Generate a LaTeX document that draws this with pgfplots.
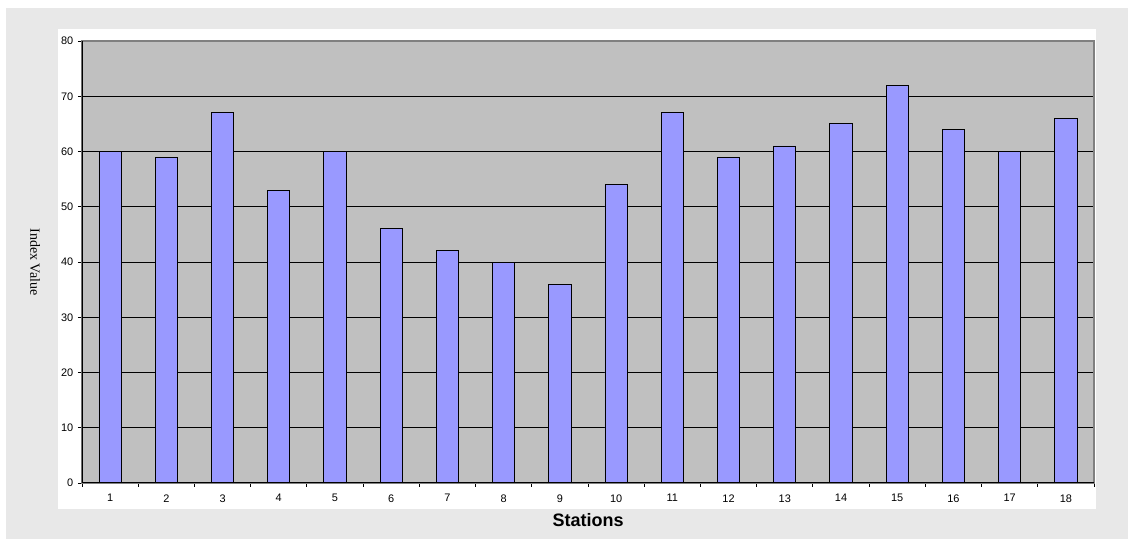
\documentclass[border=0pt]{standalone}
\usepackage{fontspec}
\setmainfont{Liberation Sans}
\newfontfamily\serifx{Liberation Serif}
\usepackage{pgfplots}
\pgfplotsset{compat=1.18}
\definecolor{outerbg}{HTML}{E8E8E8}
\definecolor{plotbg}{HTML}{C0C0C0}
\definecolor{barfill}{HTML}{9999FF}
\definecolor{frame}{HTML}{808080}
\begin{document}
\begin{tikzpicture}[x=0.75pt,y=0.75pt]
% page 1128 x 539 px, 1px = 0.75pt
\path[use as bounding box] (0,0) rectangle (1128,539);
\fill[white] (0,0) rectangle (1128,539);
\fill[outerbg] (6,0) rectangle (1128,531);
\fill[white] (58,30) rectangle (1096,510);
\begin{axis}[
  at={(61.5pt,42pt)}, anchor=south west,
  scale only axis,
  width=759pt, height=331.5pt,
  xmin=0.5, xmax=18.5, ymin=0, ymax=80,
  ybar, bar width=16.7pt,
  axis background/.style={fill=plotbg},
  axis line style={frame, line width=0.8pt},
  xtick={1,...,18},
  minor xtick={0.5,1.5,...,18.5},
  ytick={0,10,...,80},
  tick pos=left,
  tick align=outside,
  major x tick style={draw=none},
  minor x tick style={black, line width=0.6pt},
  major y tick style={black, line width=0.6pt},
  minor tick length=3pt, major tick length=3pt,
  ymajorgrids,
  grid style={black, line width=0.6pt},
  ticklabel style={font=\fontsize{8.2}{9.8}\selectfont},
  xticklabel style={yshift=-2pt},
  /pgf/number format/assume math mode=true,
  xlabel={Stations},
  xlabel style={font=\fontsize{13.5}{16}\selectfont\bfseries, at={(axis description cs:0.5,-0.0837)}, anchor=center},
  ylabel={Index Value},
  ylabel style={font=\fontsize{10.5}{12}\selectfont\serifx, at={(axis description cs:-0.0464,0.5)}, anchor=center, rotate=180},
]
\addplot[fill=barfill, draw=black, line width=0.7pt] coordinates {
(1,60) (2,59) (3,67) (4,53) (5,60) (6,46) (7,42) (8,40) (9,36)
(10,54) (11,67) (12,59) (13,61) (14,65) (15,72) (16,64) (17,60) (18,66)
};
\draw[black, line width=0.8pt] (rel axis cs:0,1) -- (rel axis cs:0,0) -- (rel axis cs:1,0);
\end{axis}
\end{tikzpicture}
\end{document}
